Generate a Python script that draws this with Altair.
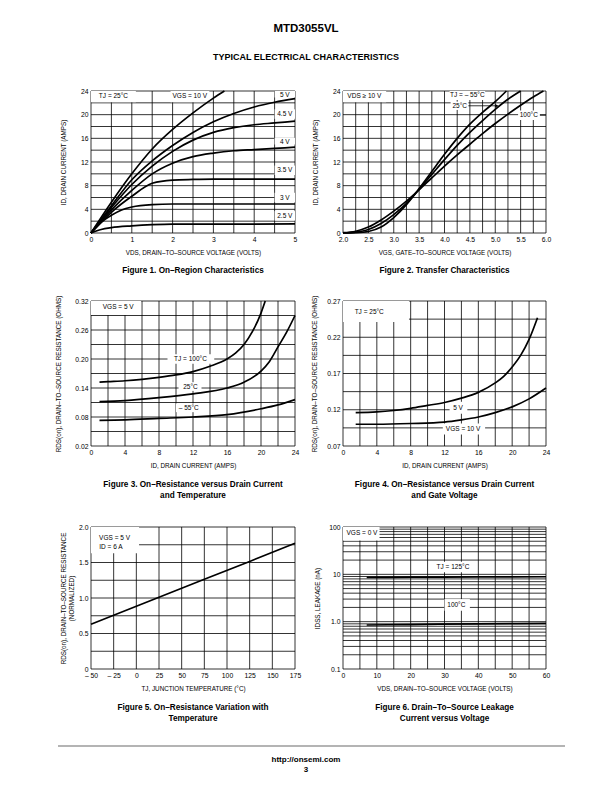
import altair as alt
import pandas as pd

FONT = "Liberation Sans"
W, H = 596, 776

# ---------------- Figure 1: On-region characteristics ----------------
f1_curves = {
    "10 V": ([0, 0.5, 1.0, 1.5, 2.0, 2.5, 3.0, 3.27], [0, 5.2, 10.0, 14.2, 17.5, 20.3, 22.8, 24.0]),
    "5 V": ([0, 0.5, 1.0, 1.5, 2.0, 2.5, 3.0, 3.5, 4.0, 4.5, 5.0], [0, 4.6, 9.0, 12.2, 14.8, 17.0, 18.8, 20.2, 21.3, 22.1, 22.7]),
    "4.5 V": ([0, 0.5, 1.0, 1.5, 2.0, 2.5, 3.0, 3.5, 4.0, 4.5, 5.0], [0, 4.3, 8.2, 11.3, 13.8, 15.7, 17.0, 17.8, 18.3, 18.6, 18.9]),
    "4 V": ([0, 0.5, 1.0, 1.5, 2.0, 2.5, 3.0, 3.5, 4.0, 4.5, 5.0], [0, 3.9, 7.2, 10.0, 11.8, 12.9, 13.5, 13.9, 14.1, 14.3, 14.5]),
    "3.5 V": ([0, 0.5, 1.0, 1.5, 2.0, 2.5, 3.0, 4.0, 5.0], [0, 3.5, 6.2, 8.4, 8.95, 9.05, 9.1, 9.1, 9.1]),
    "3 V": ([0, 0.25, 0.5, 0.75, 1.0, 1.5, 2.0, 3.0, 4.0, 5.0], [0, 1.8, 3.0, 3.9, 4.4, 4.8, 4.9, 4.9, 4.9, 4.9]),
    "2.5 V": ([0, 0.25, 0.5, 1.0, 1.5, 2.0, 3.0, 4.0, 5.0], [0, 0.6, 0.9, 1.2, 1.4, 1.5, 1.5, 1.5, 1.55]),
}
f1_xticks = [0, 1, 2, 3, 4, 5]
f1_yticks = [0, 4, 8, 12, 16, 20, 24]
f1_xgrid = [0, 0.5, 1, 1.5, 2, 2.5, 3, 3.5, 4, 4.5, 5]
f1_ygrid = [0, 2, 4, 6, 8, 10, 12, 14, 16, 18, 20, 22, 24]
f1_texts = [("TJ = 25°C", 0.55, 23.1), ("VGS = 10 V", 2.42, 23.1), ("5 V", 4.75, 23.4),
            ("4.5 V", 4.75, 20.1), ("4 V", 4.75, 15.3), ("3.5 V", 4.75, 10.6),
            ("3 V", 4.75, 6.0), ("2.5 V", 4.75, 2.9)]
f1_boxes = [(0, 1.1, 22.1, 24), (1.95, 2.9, 22.1, 24), (4.5, 5.0, 22.9, 24),
            (4.5, 5.0, 19.3, 20.9), (4.5, 5.0, 14.95, 16.1), (4.5, 5.0, 9.8, 11.4),
            (4.5, 5.0, 5.2, 6.8), (4.5, 5.0, 2.1, 3.7)]

# ---------------- Figure 2: Transfer characteristics ----------------
f2_curves = {
    "-55": ([2.0, 2.25, 2.5, 2.75, 3.0, 3.25, 3.5, 3.75, 4.0, 4.25, 4.5, 4.75, 5.0, 5.22],
            [0, 0.05, 0.25, 1.0, 2.6, 4.8, 7.5, 10.4, 13.3, 16.0, 18.4, 20.4, 22.2, 24.0]),
    "25": ([2.0, 2.25, 2.5, 2.75, 3.0, 3.25, 3.5, 3.75, 4.0, 4.25, 4.5, 4.75, 5.0, 5.25, 5.5],
           [0, 0.15, 0.6, 1.6, 3.1, 5.0, 7.4, 9.9, 12.4, 14.8, 17.0, 19.0, 20.9, 22.6, 24.0]),
    "100": ([2.0, 2.25, 2.5, 2.75, 3.0, 3.25, 3.5, 3.75, 4.0, 4.25, 4.5, 4.75, 5.0, 5.25, 5.5, 5.75, 5.95],
            [0.05, 0.3, 1.0, 2.2, 3.7, 5.4, 7.3, 9.3, 11.3, 13.2, 15.0, 16.8, 18.5, 20.1, 21.6, 23.0, 24.0]),
}
f2_xticks = [2.0, 2.5, 3.0, 3.5, 4.0, 4.5, 5.0, 5.5, 6.0]
f2_yticks = [0, 4, 8, 12, 16, 20, 24]
f2_xgrid = [2.0 + 0.25 * i for i in range(17)]
f2_ygrid = [0, 2, 4, 6, 8, 10, 12, 14, 16, 18, 20, 22, 24]
f2_texts = [("VDS ≥ 10 V", 2.42, 23.1), ("TJ = – 55°C", 4.45, 23.3), ("25°C", 4.3, 21.5), ("100°C", 5.66, 19.9)]
f2_boxes = [(2.0, 2.85, 22.1, 24), (4.1, 4.8, 22.5, 24), (4.12, 4.47, 20.8, 22.2), (5.45, 5.88, 19.1, 20.7)]
f2_leaders = [(4.47, 5.0, 21.5), (5.88, 6.0, 19.9)]
f2_arrow = [(5.03, 21.5)]

# ---------------- Figure 3: RDS(on) vs ID and temperature ----------------
f3_curves = {
    "100": ([1, 2, 4, 6, 8, 10, 12, 14, 16, 17, 18, 19, 20, 20.5],
            [0.152, 0.153, 0.155, 0.158, 0.162, 0.167, 0.174, 0.185, 0.200, 0.212, 0.230, 0.257, 0.295, 0.32]),
    "25": ([1, 4, 8, 12, 16, 18, 20, 21, 22, 23, 24],
           [0.112, 0.114, 0.120, 0.128, 0.140, 0.152, 0.175, 0.195, 0.225, 0.255, 0.29]),
    "-55": ([1, 4, 8, 12, 16, 20, 22, 24],
            [0.073, 0.074, 0.077, 0.080, 0.085, 0.097, 0.105, 0.116]),
}
f3_xticks = [0, 4, 8, 12, 16, 20, 24]
f3_yticks = [0.02, 0.08, 0.14, 0.20, 0.26, 0.32]
f3_xgrid = list(range(0, 25, 2))
f3_ygrid = [0.02, 0.05, 0.08, 0.11, 0.14, 0.17, 0.20, 0.23, 0.26, 0.29, 0.32]
f3_texts = [("VGS = 5 V", 3.2, 0.307), ("TJ = 100°C", 11.7, 0.2), ("25°C", 11.7, 0.143), ("– 55°C", 11.5, 0.099)]
f3_boxes = [(0, 5.9, 0.291, 0.32), (9.0, 14.5, 0.19, 0.21), (10.3, 13.0, 0.134, 0.152), (10.0, 13.0, 0.09, 0.108)]

# ---------------- Figure 4: RDS(on) vs ID and gate voltage ----------------
f4_curves = {
    "5": ([1.5, 4, 6, 8, 10, 12, 14, 16, 18, 19, 20, 21, 22, 23],
          [0.116, 0.117, 0.119, 0.122, 0.126, 0.130, 0.136, 0.144, 0.157, 0.166, 0.179, 0.195, 0.217, 0.247]),
    "10": ([1.5, 4, 8, 12, 14, 16, 18, 20, 22, 24],
           [0.100, 0.100, 0.101, 0.103, 0.106, 0.110, 0.116, 0.124, 0.135, 0.150]),
}
f4_xticks = [0, 4, 8, 12, 16, 20, 24]
f4_yticks = [0.07, 0.12, 0.17, 0.22, 0.27]
f4_xgrid = list(range(0, 25, 2))
f4_ygrid = [0.07, 0.095, 0.12, 0.145, 0.17, 0.195, 0.22, 0.245, 0.27]
f4_texts = [("TJ = 25°C", 3.1, 0.255), ("5 V", 13.6, 0.1228), ("VGS = 10 V", 14.2, 0.0936)]
f4_boxes = [(0, 7.8, 0.241, 0.27), (12.6, 14.7, 0.1145, 0.131), (11.8, 16.8, 0.086, 0.101)]

# ---------------- Figure 5: normalized RDS(on) vs temperature ----------------
f5_curves = {
    "r": ([-50, 0, 25, 75, 125, 175],
          [0.63, 0.885, 1.01, 1.265, 1.515, 1.77]),
}
f5_xticks = [-50, -25, 0, 25, 50, 75, 100, 125, 150, 175]
f5_yticks = [0, 0.5, 1.0, 1.5, 2.0]
f5_xgrid = [-50, -25, 0, 25, 50, 75, 100, 125, 150, 175]
f5_ygrid = [0, 0.25, 0.5, 0.75, 1.0, 1.25, 1.5, 1.75, 2.0]
f5_texts = [("VGS = 5 V", -24, 1.85), ("ID = 6 A", -28, 1.72)]
f5_boxes = [(-50, 3, 1.63, 2.0)]

# ---------------- Figure 6: drain-to-source leakage ----------------
f6_curves = {
    "125": ([7, 20, 40, 60], [8.6, 8.7, 8.8, 8.9]),
    "100": ([7, 20, 40, 60], [0.85, 0.87, 0.9, 0.92]),
}
f6_xticks = [0, 10, 20, 30, 40, 50, 60]
f6_yticks = [0.1, 1, 10, 100]
f6_xgrid = list(range(0, 61, 5))
f6_ygrid = [m * d for d in (0.1, 1, 10) for m in range(1, 10)] + [100]
f6_texts = [("VGS = 0 V", 5.6, 75), ("TJ = 125°C", 32.5, 14), ("100°C", 33.5, 2.2)]
f6_boxes = [(0, 10.8, 52, 100), (27.5, 38, 11, 18.5), (30, 37.5, 1.7, 3.0)]


def axis_x(offset, values, title, fmt=None, expr=None):
    kw = dict(orient="bottom", offset=offset, values=values, domain=False, ticks=False, grid=False,
              labelFont=FONT, labelFontSize=6.8, labelColor="black", labelPadding=3,
              labelFlush=False, labelOverlap=False, title=title, titleFont=FONT, titleFontSize=6.3,
              titleFontWeight="normal", titleColor="black", titleY=19, titleBaseline="middle")
    if fmt:
        kw["format"] = fmt
    if expr:
        kw["labelExpr"] = expr
    return alt.Axis(**kw)


def axis_y(offset, values, title, tx, fmt=None, expr=None):
    kw = dict(orient="left", offset=offset, values=values, domain=False, ticks=False, grid=False,
              labelFont=FONT, labelFontSize=6.8, labelColor="black", labelPadding=3,
              labelFlush=False, labelOverlap=False, title=title, titleFont=FONT, titleFontSize=6.3,
              titleFontWeight="normal", titleColor="black", titleX=tx, titleBaseline="middle")
    if fmt:
        kw["format"] = fmt
    if expr:
        kw["labelExpr"] = expr
    return alt.Axis(**kw)


def panel(xdom, ydom, xr, yr, curves, xgrid, ygrid, texts, boxes, ax, ay, ylog=False, extras=None,
          interp="monotone"):
    sx = alt.Scale(domain=xdom, range=xr, nice=False, zero=False)
    if ylog:
        sy = alt.Scale(type="log", domain=ydom, range=yr, nice=False)
    else:
        sy = alt.Scale(domain=ydom, range=yr, nice=False, zero=False)
    X = lambda f: alt.X(f, scale=sx, axis=ax, title=None)
    Y = lambda f: alt.Y(f, scale=sy, axis=ay, title=None)
    vg = alt.Chart(pd.DataFrame({"g": xgrid})).mark_rule(color="black", strokeWidth=0.8).encode(
        x=X("g:Q"),
        y=alt.YDatum(ydom[0], scale=sy, axis=ay), y2=alt.Y2Datum(ydom[1]))
    hg = alt.Chart(pd.DataFrame({"g": ygrid})).mark_rule(color="black", strokeWidth=0.8).encode(
        y=Y("g:Q"),
        x=alt.XDatum(xdom[0], scale=sx, axis=ax), x2=alt.X2Datum(xdom[1]))
    bdf = pd.DataFrame(boxes, columns=["x1", "x2", "y1", "y2"])
    bx = alt.Chart(bdf).mark_rect(color="white").encode(
        x=X("x1:Q"), x2="x2:Q", y=Y("y1:Q"), y2="y2:Q")
    rows = []
    for name, (xs, ys) in curves.items():
        for a, b in zip(xs, ys):
            rows.append({"c": name, "x": a, "y": b})
    cv = alt.Chart(pd.DataFrame(rows)).mark_line(color="black", strokeWidth=1.7, interpolate=interp).encode(
        x=X("x:Q"), y=Y("y:Q"), detail="c:N")
    tdf = pd.DataFrame(texts, columns=["t", "x", "y"])
    tx = alt.Chart(tdf).mark_text(font=FONT, fontSize=6.5, color="black", baseline="middle").encode(
        x=X("x:Q"), y=Y("y:Q"), text="t:N")
    layers = [vg, hg, bx, cv, tx]
    if extras:
        for e in extras:
            layers.append(e(X, Y))
    return alt.layer(*layers)


# geometry (chart coordinates = page - 8)
LX = [83, 287]
RX = [335, 538]
R1 = [225, 83]
R2 = [438, 293]
R3 = [661, 519]


def f2_extra_lines(X, Y):
    df = pd.DataFrame(f2_leaders, columns=["a", "b", "y"])
    return alt.Chart(df).mark_rule(color="black", strokeWidth=0.8).encode(
        x=X("a:Q"), x2="b:Q", y=Y("y:Q"))


def f2_extra_arrow(X, Y):
    df = pd.DataFrame(f2_arrow, columns=["x", "y"])
    return alt.Chart(df).mark_point(shape="triangle-right", filled=True, color="black", size=14, opacity=1).encode(
        x=X("x:Q"), y=Y("y:Q"))


p1 = panel([0, 5], [0, 24], LX, R1, f1_curves, f1_xgrid, f1_ygrid, f1_texts, f1_boxes,
           axis_x(R1[0] - H, f1_xticks, "VDS, DRAIN–TO–SOURCE VOLTAGE (VOLTS)"),
           axis_y(-LX[0], f1_yticks, "ID, DRAIN CURRENT (AMPS)", -28))
p2 = panel([2.0, 6.0], [0, 24], RX, R1, f2_curves, f2_xgrid, f2_ygrid, f2_texts, f2_boxes,
           axis_x(R1[0] - H, f2_xticks, "VGS, GATE–TO–SOURCE VOLTAGE (VOLTS)", fmt=".1f"),
           axis_y(-RX[0], f2_yticks, "ID, DRAIN CURRENT (AMPS)", -28),
           extras=[f2_extra_lines, f2_extra_arrow])
p3 = panel([0, 24], [0.02, 0.32], LX, R2, f3_curves, f3_xgrid, f3_ygrid, f3_texts, f3_boxes,
           axis_x(R2[0] - H, f3_xticks, "ID, DRAIN CURRENT (AMPS)"),
           axis_y(-LX[0], f3_yticks, "RDS(on), DRAIN–TO–SOURCE RESISTANCE (OHMS)", -33, fmt=".2f"))
p4 = panel([0, 24], [0.07, 0.27], RX, R2, f4_curves, f4_xgrid, f4_ygrid, f4_texts, f4_boxes,
           axis_x(R2[0] - H, f4_xticks, "ID, DRAIN CURRENT (AMPS)"),
           axis_y(-RX[0], f4_yticks, "RDS(on), DRAIN–TO–SOURCE RESISTANCE (OHMS)", -29, fmt=".2f"))
p5 = panel([-50, 175], [0, 2.0], LX, R3, f5_curves, f5_xgrid, f5_ygrid, f5_texts, f5_boxes,
           axis_x(R3[0] - H, f5_xticks, "TJ, JUNCTION TEMPERATURE (°C)",
                  expr="datum.value < 0 ? '– ' + (-datum.value) : datum.label"),
           axis_y(-LX[0], f5_yticks, ["RDS(on), DRAIN–TO–SOURCE RESISTANCE", "(NORMALIZED)"], -28,
                  expr="datum.value == 0 ? '0' : format(datum.value, '.1f')"),
           interp="linear")
p6 = panel([0, 60], [0.1, 100], RX, R3, f6_curves, f6_xgrid, f6_ygrid, f6_texts, f6_boxes,
           axis_x(R3[0] - H, f6_xticks, "VDS, DRAIN–TO–SOURCE VOLTAGE (VOLTS)"),
           axis_y(-RX[0], f6_yticks, "IDSS, LEAKAGE (nA)", -26,
                  expr="datum.value >= 100 ? '100' : datum.value >= 10 ? '10' : datum.value >= 1 ? '1.0' : '0.1'"),
           ylog=True)

one = pd.DataFrame({"k": [0]})


def label(text, x, y, size, bold=True, lh=None):
    kw = dict(text=text, font=FONT, fontSize=size, fontWeight="bold" if bold else "normal",
              color="black", align="center", baseline="alphabetic")
    if lh:
        kw["lineHeight"] = lh
    return alt.Chart(one).mark_text(**kw).encode(x=alt.value(x), y=alt.value(y))


LC = (LX[0] + LX[1]) / 2
RC = (RX[0] + RX[1]) / 2
texts = [
    label("MTD3055VL", 298, 24, 11.5),
    label("TYPICAL ELECTRICAL CHARACTERISTICS", 298, 52, 9),
    label("Figure 1. On–Region Characteristics", LC, 265, 8.2),
    label("Figure 2. Transfer Characteristics", RC, 265, 8.2),
    label(["Figure 3. On–Resistance versus Drain Current", "and Temperature"], LC, 479, 8.2, lh=11),
    label(["Figure 4. On–Resistance versus Drain Current", "and Gate Voltage"], RC, 479, 8.2, lh=11),
    label(["Figure 5. On–Resistance Variation with", "Temperature"], LC, 702, 8.2, lh=11),
    label(["Figure 6. Drain–To–Source Leakage", "Current versus Voltage"], RC, 702, 8.2, lh=11),
    label("http://onsemi.com", 298, 754, 8),
    label("3", 298, 764, 8),
]
footer_rule = alt.Chart(one).mark_rule(color="#b4b4b4", strokeWidth=2).encode(
    x=alt.value(50), x2=alt.value(557), y=alt.value(738))

chart = alt.layer(p1, p2, p3, p4, p5, p6, footer_rule, *texts).resolve_scale(
    x="independent", y="independent").properties(
    width=W, height=H, padding=0, autosize=alt.AutoSizeParams(type="none"), background="white"
).configure_view(stroke=None)

chart.save("out.html", embed_options={"renderer": "svg", "actions": False})
